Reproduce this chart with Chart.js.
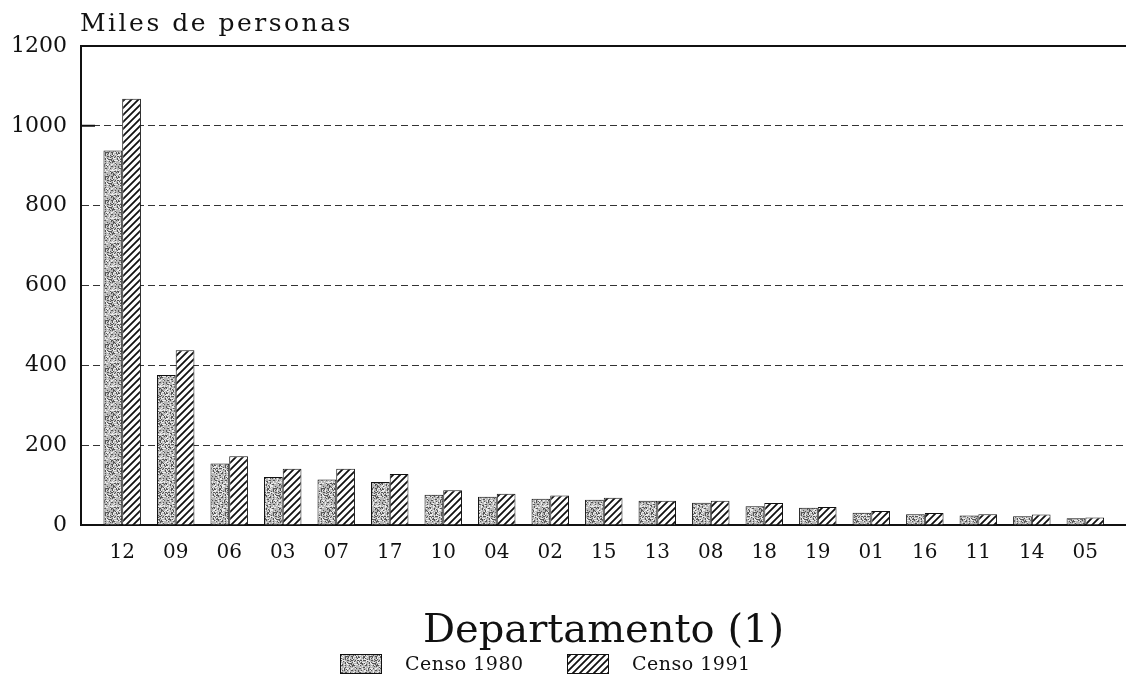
<!DOCTYPE html>
<html>
<head>
<meta charset="utf-8">
<script src="https://cdn.jsdelivr.net/npm/chart.js@4"></script>
<style>
  html, body { margin: 0; padding: 0; background: #fff; }
  #wrap { width: 1126px; height: 682px; }
</style>
</head>
<body>
<div id="wrap"><canvas id="myChart" width="1126" height="682"></canvas></div>
<script>
const categories = ['12', '09', '06', '03', '07', '17', '10', '04', '02', '15', '13', '08', '18', '19', '01', '16', '11', '14', '05'];
const censo1980 = [938, 376, 154, 120, 114, 108, 76, 71, 66, 63, 61, 56, 47, 43, 31, 27, 24, 22, 17];
const censo1991 = [1068, 438, 172, 141, 141, 128, 87, 78, 74, 68, 61, 61, 55, 45, 35, 30, 27, 26, 19];
const yTicks = [0, 200, 400, 600, 800, 1000, 1200];
const seriesNames = ['Censo 1980', 'Censo 1991'];

// stippled grey texture (fixed hash pattern, not data)
function stipple() {
    const n = 24;
    const c = document.createElement('canvas');
    c.width = n; c.height = n;
    const g = c.getContext('2d');
    g.fillStyle = '#b8b8b8';
    g.fillRect(0, 0, n, n);
    for (let y = 0; y < n; y++) {
        for (let x = 0; x < n; x++) {
            let h = (x * 374761393 + y * 668265263) >>> 0;
            h = ((h ^ (h >>> 13)) * 1274126177) >>> 0;
            const r = (h >>> 8) % 100;
            if (r < 22) { g.fillStyle = '#555'; g.fillRect(x, y, 1, 1); }
            else if (r > 74) { g.fillStyle = '#ececec'; g.fillRect(x, y, 1, 1); }
        }
    }
    return g.createPattern(c, 'repeat');
}

// diagonal hatch
function hatch() {
    const c = document.createElement('canvas');
    c.width = 7; c.height = 7;
    const g = c.getContext('2d');
    g.fillStyle = '#fff';
    g.fillRect(0, 0, 7, 7);
    g.strokeStyle = '#111';
    g.lineWidth = 1.8;
    g.beginPath();
    g.moveTo(-1, 8); g.lineTo(8, -1);
    g.moveTo(-1, 1); g.lineTo(1, -1);
    g.moveTo(6, 8); g.lineTo(8, 6);
    g.stroke();
    return g.createPattern(c, 'repeat');
}

const serif = "'DejaVu Serif', serif";

const frame = {
    id: 'frame',
    afterDraw(chart) {
        const ctx = chart.ctx;
        const a = chart.chartArea;
        const y = chart.scales.y;
        ctx.save();
        ctx.strokeStyle = '#111';
        ctx.lineWidth = 2;
        ctx.beginPath();
        ctx.moveTo(a.left, y.getPixelForValue(1200));
        ctx.lineTo(a.right, y.getPixelForValue(1200));
        ctx.moveTo(a.left, y.getPixelForValue(1000));
        ctx.lineTo(a.left + 14, y.getPixelForValue(1000));
        ctx.stroke();

        ctx.fillStyle = '#111';
        ctx.font = '25px ' + serif;
        ctx.letterSpacing = '2.5px';
        ctx.textBaseline = 'alphabetic';
        ctx.fillText('Miles de personas', a.left - 1, 31);

        // legend
        ctx.letterSpacing = '0.5px';
        ctx.font = '19px ' + serif;
        ctx.textBaseline = 'middle';
        const ly = a.bottom + 139;
        const starts = [340, 567];
        chart.data.datasets.forEach((ds, i) => {
            const lx = starts[i];
            ctx.fillStyle = ds.backgroundColor;
            ctx.fillRect(lx, ly - 10, 42, 20);
            ctx.lineWidth = 1;
            ctx.strokeStyle = '#111';
            ctx.strokeRect(lx + 0.5, ly - 9.5, 41, 19);
            ctx.fillStyle = '#111';
            ctx.fillText(ds.label, lx + 65, ly + 1);
        });
        ctx.restore();
    }
};

const ctx = document.getElementById('myChart').getContext('2d');
const chart = new Chart(ctx, {
    type: 'bar',
    data: {
        datasets: [{
            label: seriesNames[0],
            data: censo1980.map((v, i) => ({ x: i, y: v })),
            backgroundColor: stipple(),
            borderColor: '#111',
            borderWidth: 1,
        }, {
            label: seriesNames[1],
            data: censo1991.map((v, i) => ({ x: i, y: v })),
            backgroundColor: hatch(),
            borderColor: '#111',
            borderWidth: 1,
        }]
    },
    options: {
        responsive: false,
        animation: false,
        layout: { padding: { top: 46, right: 0, left: 0, bottom: 30 } },
        datasets: { bar: { categoryPercentage: 0.7, barPercentage: 1 } },
        scales: {
            x: {
                type: 'linear',
                offset: false,
                min: -0.77,
                max: 18.76,
                afterBuildTicks: (s) => { s.ticks = categories.map((c, i) => ({ value: i })); },
                afterFit: (s) => { s.height = 127; },
                ticks: {
                    autoSkip: false,
                    maxRotation: 0,
                    color: '#111',
                    font: { family: serif, size: 20 },
                    padding: 16,
                    callback: (v) => categories[v],
                },
                grid: { display: false, drawTicks: false },
                border: { color: '#111', width: 2 },
                title: {
                    display: true,
                    text: 'Departamento (1)',
                    color: '#111',
                    font: { family: serif, size: 40, lineHeight: 1 },
                    padding: { top: 47, bottom: 0 },
                },
            },
            y: {
                min: 0,
                max: 1200,
                afterBuildTicks: (s) => { s.ticks = yTicks.map(v => ({ value: v })); },
                afterFit: (s) => { s.width = 81; },
                ticks: {
                    color: '#111',
                    font: { family: serif, size: 22 },
                    padding: 14,
                    callback: (v) => String(v),
                },
                grid: {
                    drawTicks: false,
                    color: (c) => (c.tick && c.tick.value > 0 && c.tick.value < 1200) ? '#333' : 'rgba(0,0,0,0)',
                    lineWidth: 1,
                },
                border: { color: '#111', width: 2, dash: [7, 4] },
            }
        },
        plugins: {
            legend: { display: false },
            tooltip: { enabled: false },
        }
    },
    plugins: [frame]
});
</script>
</body>
</html>
